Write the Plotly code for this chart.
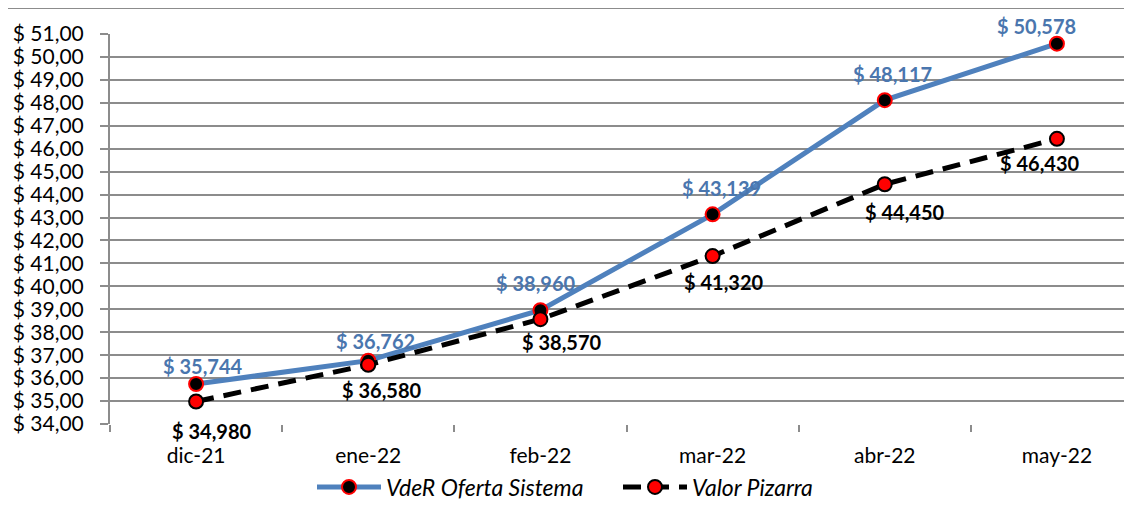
import plotly.graph_objects as go

# datos
MESES = ["dic-21", "ene-22", "feb-22", "mar-22", "abr-22", "may-22"]
VDER_OFERTA = [35.744, 36.762, 38.960, 43.139, 48.117, 50.578]
VALOR_PIZARRA = [34.980, 36.580, 38.570, 41.320, 44.450, 46.430]
Y_TICKS = list(range(34, 52))
Y_TICK_TEXT = [f"$ {v},00" for v in Y_TICKS]

# desplazamientos (px) de las etiquetas de datos, como en el original
DESP_AZUL = [(7, 18), (7, 20), (-4, 27), (9, 26), (8, 26), (-20, 18)]
DESP_NEGRO = [(16, -29), (14, -25), (22, -23), (11, -26), (20, -28), (-17, -24)]

FONT = "Lato, 'Open Sans', sans-serif"
GRID = "#8c8c8c"
AZUL = "#4F81BD"


def etiqueta(v):
    return "$ " + f"{v:.3f}".replace(".", ",")


fig = go.Figure()

fig.add_trace(go.Scatter(
    x=MESES, y=VDER_OFERTA, name="VdeR Oferta Sistema",
    mode="lines+markers",
    line=dict(color=AZUL, width=5),
    marker=dict(color="black", size=14, line=dict(color="red", width=2)),
))

fig.add_trace(go.Scatter(
    x=MESES, y=VALOR_PIZARRA, name="Valor Pizarra",
    mode="lines+markers",
    line=dict(color="black", width=5, dash="18px,10px"),
    marker=dict(color="red", size=14, line=dict(color="black", width=2)),
))

for serie, desp, color in ((VDER_OFERTA, DESP_AZUL, "#4A76AE"),
                           (VALOR_PIZARRA, DESP_NEGRO, "black")):
    for mes, v, (dx, dy) in zip(MESES, serie, desp):
        fig.add_annotation(
            x=mes, y=v, text=etiqueta(v), showarrow=False,
            xshift=dx, yshift=dy,
            font=dict(family=FONT, size=20, color=color, weight="bold"),
        )

# marco exterior del gráfico
fig.add_shape(
    type="rect", xref="paper", yref="paper",
    x0=(7 - 110) / 1022, x1=1.1, y0=-0.4, y1=(424 - 8) / 390,
    line=dict(color=GRID, width=2), fillcolor="rgba(0,0,0,0)",
    layer="below",
)

fig.update_layout(
    width=1124, height=511,
    margin=dict(l=102, r=0, t=26, b=95),
    paper_bgcolor="white", plot_bgcolor="white",
    font=dict(family=FONT, size=21, color="black"),
    showlegend=True,
    legend=dict(
        orientation="h", x=(312 - 110) / 1022, xanchor="left",
        y=(424 - 487) / 390, yanchor="middle",
        font=dict(family=FONT, size=23, style="italic"),
        itemwidth=64, entrywidth=227, entrywidthmode="pixels",
    ),
)

fig.update_xaxes(
    type="category", range=[-0.5, 5.436],
    tickson="boundaries", ticks="outside", ticklen=7, tickcolor=GRID, tickwidth=2,
    showline=False, showgrid=False, zeroline=False,
    tickfont=dict(family=FONT, size=21), ticklabelstandoff=17,
)
fig.update_yaxes(
    range=[34, 51], tickvals=Y_TICKS, ticktext=Y_TICK_TEXT,
    ticks="outside", ticklen=8, tickcolor=GRID, tickwidth=2,
    showline=True, linecolor=GRID, linewidth=2,
    showgrid=True, gridcolor=GRID, gridwidth=2, zeroline=False,
    tickfont=dict(family=FONT, size=21), ticklabelstandoff=12,
)

fig.write_html("out.html")
